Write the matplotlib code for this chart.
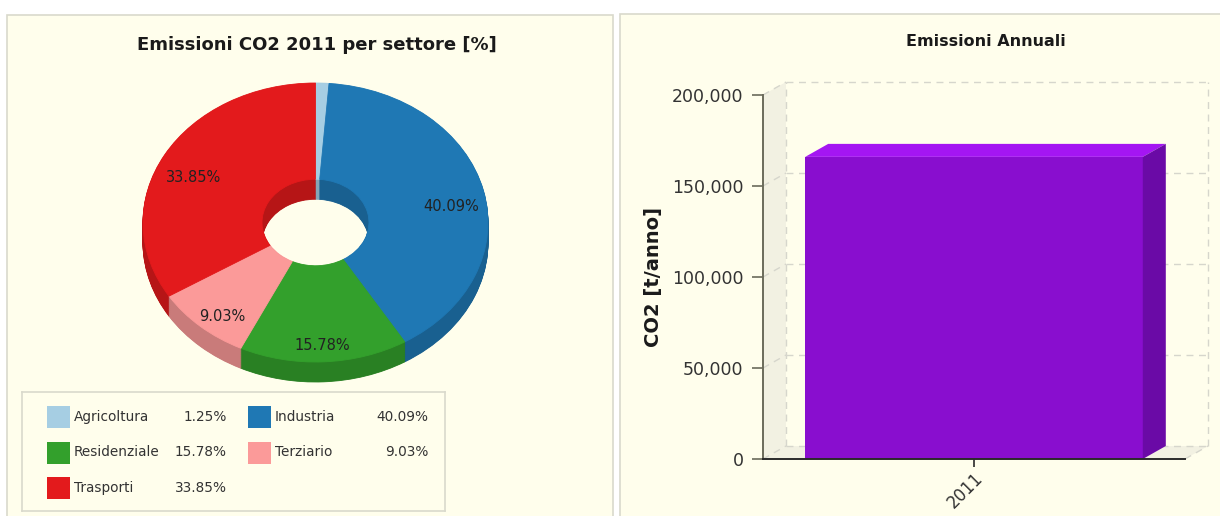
import matplotlib
matplotlib.use("Agg")
import matplotlib.pyplot as plt
import numpy as np
from matplotlib.patches import Rectangle, Polygon
from matplotlib.ticker import StrMethodFormatter
from matplotlib.colors import to_rgb

# ---------------- data ----------------
sectors = ["Agricoltura", "Industria", "Residenziale", "Terziario", "Trasporti"]
shares = [1.25, 40.09, 15.78, 9.03, 33.85]
sector_colors = ["#a6cee3", "#1f78b4", "#33a02c", "#fb9a99", "#e31a1c"]

years = ["2011"]
emissions = [166000]
y_ticks = [0, 50000, 100000, 150000, 200000]

pie_title = "Emissioni CO2 2011 per settore [%]"
bar_title = "Emissioni Annuali"
bar_ylabel = "CO2 [t/anno]"

# ---------------- figure ----------------
W, H = 1220, 516
fig = plt.figure(figsize=(W / 100, H / 100), dpi=100, facecolor="white")
cream = "#fffeec"
border = "#d9d9cc"


def box(x0, y0, x1, y1):
    """Pixel box (top-left origin) -> figure fraction rect."""
    return [x0 / W, 1 - y1 / H, (x1 - x0) / W, (y1 - y0) / H]


# panel backgrounds
for (x0, y0, x1) in [(7, 15, 613), (620, 14, 1222)]:
    fig.patches.append(Rectangle((x0 / W, -0.01), (x1 - x0) / W, 1.01 - y0 / H,
                                 transform=fig.transFigure, facecolor=cream,
                                 edgecolor=border, lw=1.2, zorder=-10))


def darker(c, f=0.8):
    r, g, b = to_rgb(c)
    return (r * f, g * f, b * f)


# ---------------- 3D donut ----------------
ax_pie = fig.add_axes(box(143, 83, 488, 382))
depth = 20 / 139.5
ring = 0.69
side_colors = [darker(c) for c in sector_colors]
n_layers = 30
for k in range(n_layers, 0, -1):
    off = depth * k / n_layers
    ws, _ = ax_pie.pie(shares, colors=side_colors, startangle=90, counterclock=False,
                       radius=1, center=(0, -off), frame=True,
                       wedgeprops=dict(width=ring, linewidth=0.6))
    for w, c in zip(ws, side_colors):
        w.set_edgecolor(c)

top_wedges, _ = ax_pie.pie(shares, colors=sector_colors, startangle=90, counterclock=False,
                           radius=1, center=(0, 0), frame=True,
                           wedgeprops=dict(width=ring, linewidth=0.6))
for w, c in zip(top_wedges, sector_colors):
    w.set_edgecolor(c)

for w, val in zip(top_wedges, shares):
    if val < 5:
        continue
    mid = np.deg2rad((w.theta1 + w.theta2) / 2)
    ax_pie.text(0.81 * np.cos(mid), 0.81 * np.sin(mid) - depth / 2, f"{val:.2f}%",
                ha="center", va="center", fontsize=10.5, color="#222222")

ax_pie.set_aspect("auto")
ax_pie.set_xlim(-1, 1)
ax_pie.set_ylim(-1 - depth, 1)
ax_pie.axis("off")

fig.text(317 / W, 1 - 45 / H, pie_title, ha="center", va="center",
         fontsize=13, fontweight="bold", color="#1a1a1a")

# ---------------- legend ----------------
ax_leg = fig.add_axes(box(22, 392, 445, 511))
ax_leg.set_xlim(0, 423)
ax_leg.set_ylim(119, 0)
ax_leg.set_xticks([])
ax_leg.set_yticks([])
ax_leg.set_facecolor(cream)
for s in ax_leg.spines.values():
    s.set_color(border)
    s.set_linewidth(1.2)
for i, (name, val, col) in enumerate(zip(sectors, shares, sector_colors)):
    row, colm = divmod(i, 2)
    yc = 25 + row * 35.5
    x0 = 25 + colm * 201
    ax_leg.add_patch(Rectangle((x0, yc - 11), 23, 22, facecolor=col, edgecolor="none"))
    ax_leg.text(x0 + 27, yc, name, ha="left", va="center", fontsize=9.8, color="#333333")
    ax_leg.text(x0 + 180, yc, f"{val:.2f}%", ha="right", va="center",
                fontsize=9.8, color="#333333")

# ---------------- 3D bar chart ----------------
ax = fig.add_axes(box(763, 95, 1185, 459))
ax.set_facecolor("none")
ymax = y_ticks[-1]
ax.set_xlim(-0.5, 0.5)
ax.set_ylim(0, ymax)
dxd = 23 / 422 * 1.0
dyd = 13 / 364 * ymax
x_lo, x_hi = -0.5, 0.5
wall = "#f2f1e2"
grid_kw = dict(color="#d6d6cc", lw=1.0, ls=(0, (5, 4)), clip_on=False, zorder=1)

# side wall and floor
ax.add_patch(Polygon([(x_lo, 0), (x_lo, ymax), (x_lo + dxd, ymax + dyd), (x_lo + dxd, dyd)],
                     closed=True, facecolor=wall, edgecolor="none", clip_on=False, zorder=0))
ax.add_patch(Polygon([(x_lo, 0), (x_hi, 0), (x_hi + dxd, dyd), (x_lo + dxd, dyd)],
                     closed=True, facecolor=wall, edgecolor="none", clip_on=False, zorder=0))
for v in y_ticks:
    ax.plot([x_lo + dxd, x_hi + dxd], [v + dyd, v + dyd], **grid_kw)
    ax.plot([x_lo, x_lo + dxd], [v, v + dyd], **grid_kw)
for xe in (x_lo + dxd, x_hi + dxd):
    ax.plot([xe, xe], [dyd, ymax + dyd], **grid_kw)
ax.plot([x_hi, x_hi + dxd], [0, dyd], **grid_kw)

bar_w = 0.8
front = "#890ecf"
top_c = "#a416f2"
side_c = "#6a0aa6"
xpos = np.arange(len(years))
bars = ax.bar(xpos, emissions, width=bar_w, color=front, zorder=3, clip_on=False)
for b in bars:
    x0, x1, v = b.get_x(), b.get_x() + b.get_width(), b.get_height()
    ax.add_patch(Polygon([(x0, v), (x1, v), (x1 + dxd, v + dyd), (x0 + dxd, v + dyd)],
                         closed=True, facecolor=top_c, edgecolor="none", zorder=3, clip_on=False))
    ax.add_patch(Polygon([(x1, 0), (x1 + dxd, dyd), (x1 + dxd, v + dyd), (x1, v)],
                         closed=True, facecolor=side_c, edgecolor="none", zorder=3, clip_on=False))

for s in ("top", "right"):
    ax.spines[s].set_visible(False)
ax.spines["left"].set_color("#6b6b5b")
ax.spines["left"].set_linewidth(1.4)
ax.spines["bottom"].set_color("#2a2a2a")
ax.spines["bottom"].set_linewidth(1.4)
ax.spines["left"].set_zorder(4)
ax.spines["bottom"].set_zorder(4)

ax.set_yticks(y_ticks)
ax.yaxis.set_major_formatter(StrMethodFormatter("{x:,.0f}"))
ax.tick_params(axis="y", direction="out", length=8, width=1.2, color="#6b6b5b",
               labelsize=12.5, labelcolor="#333333", pad=6)
ax.set_xticks(xpos, years, rotation=45, ha="right", rotation_mode="anchor")
ax.tick_params(axis="x", direction="out", length=6, width=1.2, color="#2a2a2a",
               labelsize=12, labelcolor="#333333", pad=1)

ax.set_ylabel(bar_ylabel, fontsize=14, fontweight="bold", color="#1a1a1a", va="center")
ax.yaxis.set_label_coords(-(763 - 653) / 422, 0.5)

fig.text(986 / W, 1 - 42 / H, bar_title, ha="center", va="center",
         fontsize=11.5, fontweight="bold", color="#1a1a1a")

fig.savefig("out.png", dpi=100, facecolor="white")
